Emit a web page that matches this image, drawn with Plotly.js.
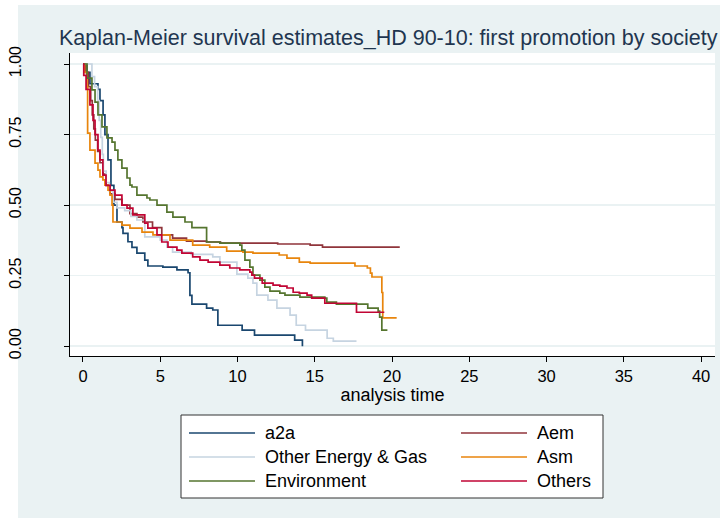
<!DOCTYPE html>
<html>
<head>
<meta charset="utf-8">
<script src="https://cdn.plot.ly/plotly-3.0.1.min.js"></script>
<style>
  html, body { margin: 0; padding: 0; background: #ffffff; }
  #bg { position: absolute; left: 18px; top: 5px; width: 702px; height: 513px; background: #eaf2f3; }
  #chart { position: absolute; left: 0; top: 0; width: 720px; height: 518px; }
</style>
</head>
<body>
<div id="bg"></div>
<div id="chart"></div>
<script>
// ---- data ----
const seriesNames = ["a2a", "Aem", "Other Energy & Gas", "Asm", "Environment", "Others"];

const a2aT = [0, 0.26, 0.45, 0.97, 1.1, 1.3, 1.42, 1.62, 1.81, 2.0, 2.2, 2.52, 2.59, 2.91, 3.17, 3.49, 4.0, 4.2, 5.17, 6.08, 6.8, 6.92, 7.05, 8.0, 8.4, 8.73, 10.3, 11.1, 13.7, 14.2];
const a2aS = [1, 0.97, 0.93, 0.91, 0.87, 0.82, 0.75, 0.66, 0.57, 0.50, 0.44, 0.42, 0.40, 0.37, 0.35, 0.33, 0.305, 0.284, 0.28, 0.27, 0.26, 0.18, 0.149, 0.135, 0.128, 0.074, 0.057, 0.039, 0.021, 0.0];

const aemT = [0, 0.15, 0.35, 0.5, 0.6, 0.7, 0.8, 0.95, 1.1, 1.3, 1.5, 1.75, 2.07, 2.52, 3.04, 3.49, 3.88, 4.5, 5.1, 5.8, 6.7, 8.0, 8.9, 12.6, 14.7, 15.5, 20.5];
const aemS = [1, 0.97, 0.92, 0.87, 0.82, 0.77, 0.73, 0.69, 0.65, 0.61, 0.57, 0.54, 0.52, 0.5, 0.47, 0.457, 0.44, 0.42, 0.394, 0.383, 0.372, 0.369, 0.365, 0.362, 0.358, 0.351, 0.351];

const otherT = [0, 0.58, 0.75, 0.95, 1.05, 1.15, 1.25, 1.32, 1.5, 1.7, 1.95, 2.2, 2.7, 3.1, 3.49, 4.0, 5.0, 5.43, 5.8, 7.0, 8.4, 8.86, 9.96, 10.67, 11.0, 11.25, 11.97, 12.55, 13.4, 13.8, 14.4, 15.8, 16.2, 17.7];
const otherS = [1, 0.955, 0.92, 0.87, 0.8, 0.74, 0.68, 0.62, 0.58, 0.55, 0.51, 0.49, 0.48, 0.46, 0.447, 0.387, 0.376, 0.351, 0.333, 0.325, 0.316, 0.298, 0.255, 0.241, 0.223, 0.181, 0.163, 0.135, 0.11, 0.074, 0.057, 0.028, 0.018, 0.018];

const asmT = [0, 0.1, 0.26, 0.3, 0.45, 0.78, 0.97, 1.1, 1.29, 1.42, 1.62, 1.75, 1.88, 1.94, 2.52, 3.04, 3.82, 4.53, 5.63, 7.1, 8.2, 9.3, 10.35, 11.0, 12.7, 13.2, 14.0, 14.7, 17.6, 18.4, 18.6, 18.7, 19.34, 19.4, 20.3];
const asmS = [1, 0.97, 0.92, 0.755, 0.695, 0.649, 0.624, 0.6, 0.589, 0.571, 0.553, 0.535, 0.5, 0.44, 0.429, 0.418, 0.404, 0.394, 0.376, 0.358, 0.351, 0.337, 0.333, 0.33, 0.323, 0.312, 0.298, 0.294, 0.284, 0.277, 0.259, 0.245, 0.19, 0.1, 0.1];

const envT = [0, 0.26, 0.58, 0.78, 0.97, 1.23, 1.55, 1.88, 2.07, 2.26, 2.52, 2.85, 3.04, 3.17, 3.49, 4.14, 4.33, 4.79, 5.43, 5.82, 6.6, 7.05, 8.0, 8.86, 10.15, 10.28, 10.48, 10.8, 11.0, 11.45, 11.77, 12.1, 12.74, 13.07, 14.04, 15.65, 15.78, 16.4, 18.43, 19.1, 19.2, 19.34, 19.7];
const envS = [1, 0.95, 0.908, 0.865, 0.82, 0.777, 0.738, 0.723, 0.695, 0.66, 0.631, 0.596, 0.571, 0.564, 0.535, 0.525, 0.518, 0.5, 0.475, 0.457, 0.44, 0.42, 0.369, 0.365, 0.358, 0.34, 0.305, 0.28, 0.252, 0.234, 0.209, 0.195, 0.188, 0.181, 0.174, 0.17, 0.156, 0.149, 0.135, 0.124, 0.103, 0.057, 0.057];

const othersT = [0, 0.05, 0.2, 0.45, 0.65, 0.78, 0.97, 1.1, 1.29, 1.49, 1.75, 2.07, 2.52, 2.85, 3.23, 4.0, 4.2, 4.79, 5.1, 5.5, 6.08, 6.4, 7.1, 7.57, 8.1, 8.86, 9.5, 10.15, 10.8, 10.93, 11.1, 11.6, 12.3, 12.74, 13.2, 13.6, 14.0, 14.5, 14.8, 15.65, 17.7, 19.5];
const othersS = [1, 0.96, 0.91, 0.855, 0.80, 0.75, 0.695, 0.66, 0.606, 0.57, 0.553, 0.535, 0.5, 0.489, 0.465, 0.436, 0.418, 0.394, 0.369, 0.351, 0.34, 0.33, 0.316, 0.305, 0.298, 0.287, 0.277, 0.27, 0.262, 0.252, 0.241, 0.223, 0.216, 0.213, 0.206, 0.191, 0.188, 0.181, 0.17, 0.152, 0.12, 0.12];

const xTickVals = [0, 5, 10, 15, 20, 25, 30, 35, 40];
const yTickVals = [0, 0.25, 0.5, 0.75, 1];
const yTickText = ["0.00", "0.25", "0.50", "0.75", "1.00"];

const titleText = "Kaplan-Meier survival estimates_HD 90-10: first promotion by society";
const xTitleText = "analysis time";

// ---- styling ----
const colors = ["#1a476f", "#90353b", "#c6d4e1", "#e8850c", "#55752f", "#c10534"];
const seriesT = [a2aT, aemT, otherT, asmT, envT, othersT];
const seriesS = [a2aS, aemS, otherS, asmS, envS, othersS];
const FONT = "Liberation Sans, Arial, sans-serif";

const W = 720, H = 518;
const M = {l: 70, r: 5, t: 53, b: 162};
const pw = W - M.l - M.r, ph = H - M.t - M.b;
const px = x => (x - M.l) / pw;          // pixel -> paper x
const py = y => (H - M.b - y) / ph;      // pixel -> paper y

const traces = seriesNames.map((n, i) => ({
  type: "scatter", mode: "lines", name: n,
  x: seriesT[i], y: seriesS[i],
  line: {shape: "hv", color: colors[i], width: 1.7},
  showlegend: false, hoverinfo: "skip"
}));

// custom legend box (Stata style)
const shapes = [{
  type: "rect", xref: "paper", yref: "paper",
  x0: px(181), x1: px(603), y0: py(415), y1: py(498),
  fillcolor: "#ffffff", line: {color: "#333333", width: 1}, layer: "above"
}];
const annotations = [];
const legendRows = [433, 457, 481];
seriesNames.forEach((n, i) => {
  const col = i % 2, row = Math.floor(i / 2);
  const lx0 = col === 0 ? 189 : 461;
  const ly = legendRows[row];
  shapes.push({
    type: "line", xref: "paper", yref: "paper",
    x0: px(lx0), x1: px(lx0 + 66), y0: py(ly), y1: py(ly),
    line: {color: colors[i], width: 1.7}, layer: "above"
  });
  annotations.push({
    xref: "paper", yref: "paper", x: px(lx0 + 74), y: py(ly),
    xanchor: "left", yanchor: "middle", showarrow: false,
    text: n, font: {family: FONT, size: 18, color: "#000000"}
  });
});

const layout = {
  width: W, height: H,
  margin: M,
  paper_bgcolor: "rgba(0,0,0,0)",
  plot_bgcolor: "#ffffff",
  showlegend: false,
  font: {family: FONT, color: "#000000"},
  title: {
    text: titleText,
    font: {family: FONT, size: 21.5, color: "#1f3650"},
    xref: "container", yref: "container",
    x: 59 / W, xanchor: "left",
    y: 1 - 37 / H, yanchor: "middle"
  },
  xaxis: {
    range: [-0.84, 40.9],
    tickmode: "array", tickvals: xTickVals,
    ticks: "outside", ticklen: 5, tickcolor: "#000000",
    showline: true, linecolor: "#000000", linewidth: 1,
    showgrid: false, zeroline: false,
    tickfont: {family: FONT, size: 16.5, color: "#000000"},
    title: {text: xTitleText, font: {family: FONT, size: 18, color: "#000000"}, standoff: 3}
  },
  yaxis: {
    range: [-0.035, 1.039],
    tickmode: "array", tickvals: yTickVals, ticktext: yTickText,
    tickangle: -90,
    ticks: "outside", ticklen: 5, tickcolor: "#000000",
    ticklabelstandoff: 37,
    showline: true, linecolor: "#000000", linewidth: 1,
    showgrid: true, gridcolor: "#eaf2f3", gridwidth: 1.5,
    zeroline: false,
    tickfont: {family: FONT, size: 16, color: "#000000"}
  },
  shapes: shapes,
  annotations: annotations
};

Plotly.newPlot("chart", traces, layout, {staticPlot: true, displayModeBar: false});
</script>
</body>
</html>
